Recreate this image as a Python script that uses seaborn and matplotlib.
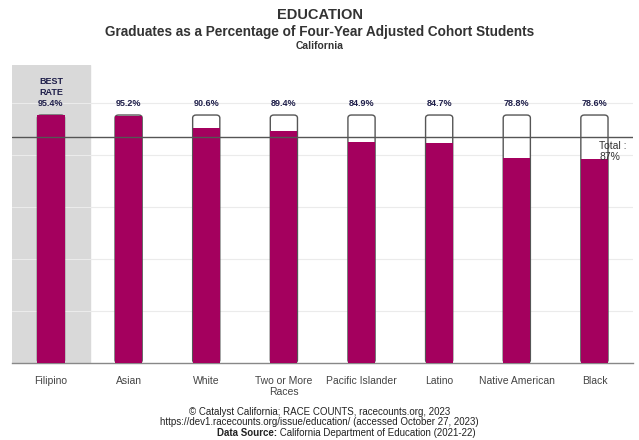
import matplotlib
matplotlib.use("Agg")
import matplotlib.pyplot as plt
from matplotlib.patches import FancyBboxPatch
import seaborn as sns
import pandas as pd

# graduation rates, California 2021-22
groups = ["Filipino", "Asian", "White", "Two or More\nRaces", "Pacific Islander",
          "Latino", "Native American", "Black"]
rates = [95.4, 95.2, 90.6, 89.4, 84.9, 84.7, 78.8, 78.6]
total_rate = 87
best_rate = max(rates)

BAR = "#A4005E"
TXT = "#1f1f4a"

sns.set_style("white")
plt.rcParams["font.family"] = ["Liberation Sans", "DejaVu Sans"]

df = pd.DataFrame({"group": groups, "rate": rates, "best": [best_rate] * len(groups)})

fig = plt.figure(figsize=(6.39, 4.40), dpi=100)
ax = fig.add_axes([0.019, 0.175, 0.972, 0.677])

# shaded band behind the best performer
ax.axvspan(-0.5, 0.5, color="#D9D9D9", zorder=0)

# gridlines
for g in [20, 40, 60, 80, 100]:
    ax.axhline(g, color="#EBEBEB", linewidth=0.8, zorder=0.5)

# outline bars up to the best rate
n_before = len(ax.patches)
sns.barplot(data=df, x="group", y="best", color="white", width=0.35,
            edgecolor="#555555", linewidth=1.0, ax=ax, zorder=2)

# swap the outline rectangles for rounded ones
outline = list(ax.patches)[n_before:]
for p in outline:
    x, y = p.get_x(), p.get_y()
    w, h = p.get_width(), p.get_height()
    p.remove()
    ax.add_patch(FancyBboxPatch((x, y), w, h,
                                boxstyle="round,pad=0,rounding_size=0.045",
                                mutation_aspect=26, facecolor="white",
                                edgecolor="#555555", linewidth=1.0, zorder=2))

# filled bars with the actual rate
sns.barplot(data=df, x="group", y="rate", color=BAR, saturation=1, width=0.35,
            edgecolor="none", ax=ax, zorder=3)

# overall rate
ax.axhline(total_rate, color="#555555", linewidth=1.0, zorder=4)
ax.text(7.06, 81.5, "Total :\n87%", fontsize=7.5, color="#333333",
        ha="left", va="center", zorder=5, linespacing=1.1)

# value labels
for i, r in enumerate(rates):
    label = f"{r}%"
    if i == 0:
        label = f"BEST\nRATE\n{r}%"
    ax.text(i, 98.0, label, ha="center", va="bottom", fontsize=6.5,
            fontweight="bold", color=TXT, linespacing=1.3, zorder=5)

ax.set_ylim(0, 114.6)
ax.set_xlim(-0.5, 7.5)
ax.set_yticks([])
ax.set_xlabel("")
ax.set_ylabel("")
ax.tick_params(axis="x", length=0, labelsize=7.5, labelcolor="#444444", pad=9)
for s in ["top", "right", "left"]:
    ax.spines[s].set_visible(False)
ax.spines["bottom"].set_color("#888888")
ax.spines["bottom"].set_linewidth(1.0)

# titles
fig.text(0.5, 0.965, "EDUCATION", ha="center", va="center", fontsize=10.5,
         fontweight="bold", color="#333333")
fig.text(0.5, 0.927, "Graduates as a Percentage of Four-Year Adjusted Cohort Students",
         ha="center", va="center", fontsize=9.8, fontweight="bold", color="#333333")
fig.text(0.5, 0.896, "California", ha="center", va="center", fontsize=7.4,
         fontweight="bold", color="#333333")

# footer
fig.text(0.5, 0.064, "\u00a9 Catalyst California; RACE COUNTS, racecounts.org, 2023",
         ha="center", va="center", fontsize=7, color="#222222")
fig.text(0.5, 0.040, "https://dev1.racecounts.org/issue/education/ (accessed October 27, 2023)",
         ha="center", va="center", fontsize=7, color="#222222")
fig.text(0.433, 0.016, "Data Source:", ha="right", va="center", fontsize=7,
         fontweight="bold", color="#222222")
fig.text(0.433, 0.016, " California Department of Education (2021-22)", ha="left",
         va="center", fontsize=7, color="#222222")

fig.savefig("out.png", dpi=100)
